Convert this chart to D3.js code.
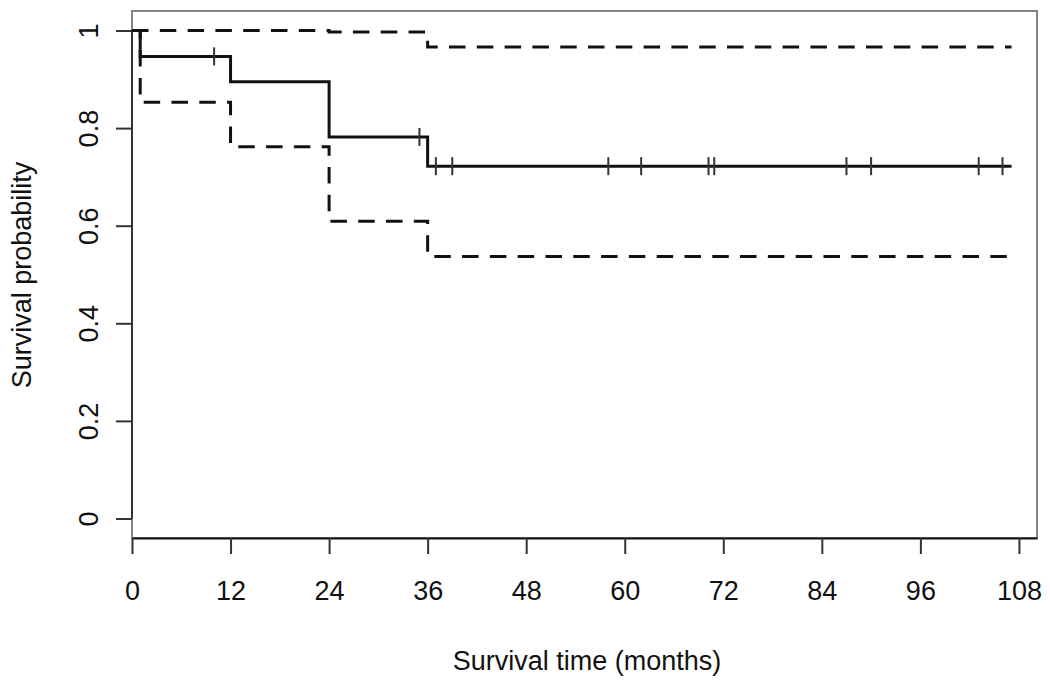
<!DOCTYPE html>
<html>
<head>
<meta charset="utf-8">
<script src="https://cdn.jsdelivr.net/npm/d3@7"></script>
<style>
  body { margin: 0; background: #fff; }
  text { font-family: "Liberation Sans", Arial, sans-serif; fill: #111; }
</style>
</head>
<body>
<div id="chart"></div>
<script>
// Kaplan-Meier estimate with 95% confidence band
var stepTimes = [0, 1, 12, 24, 36, 107.1];
var survival = [1, 0.947, 0.895, 0.782, 0.722];
var upperBand = [1, 1, 1, 0.997, 0.966];
var lowerBand = [1, 0.853, 0.762, 0.609, 0.537];
var censorTimes = [10, 35, 37, 39, 58, 62, 70.2, 70.9, 87, 90, 103.1, 106];

var xTicks = [0, 12, 24, 36, 48, 60, 72, 84, 96, 108];
var yTicks = [0, 0.2, 0.4, 0.6, 0.8, 1];
var yTickLabels = ["0", "0.2", "0.4", "0.6", "0.8", "1"];

var width = 1050,
	height = 686,
	box = {left: 132, right: 1037, top: 11, bottom: 538};

var svg = d3.select("#chart")
	.append("svg")
	.attr("width", width)
	.attr("height", height);

var x = d3.scaleLinear().domain([0, 110.2]).range([box.left, box.right]);
var y = d3.scaleLinear().domain([-0.04, 1.04]).range([box.bottom, box.top]);

function stepPoints(values) {
	var pts = [];
	for (var i = 0; i < values.length; i++) {
		pts.push({t: stepTimes[i], s: values[i]});
	}
	pts.push({t: stepTimes[values.length], s: values[values.length - 1]});
	return pts;
}

function survivalAt(t) {
	var s = survival[0];
	for (var i = 0; i < survival.length; i++) {
		if (t >= stepTimes[i]) s = survival[i];
	}
	return s;
}

var line = d3.line()
	.x(function(d) { return x(d.t); })
	.y(function(d) { return y(d.s); })
	.curve(d3.curveStepAfter);

// plot box
svg.append("rect")
	.attr("x", box.left)
	.attr("y", box.top)
	.attr("width", box.right - box.left)
	.attr("height", box.bottom - box.top)
	.attr("fill", "none")
	.attr("stroke", "#7d8585")
	.attr("stroke-width", 2);

// axes
var xAxis = d3.axisBottom(x).tickValues(xTicks).tickSize(16).tickSizeOuter(0).tickPadding(27);
var gx = svg.append("g")
	.attr("transform", "translate(0," + box.bottom + ")")
	.call(xAxis);
gx.select(".domain").attr("stroke", "#111").attr("stroke-width", 2);
gx.selectAll(".tick line").attr("stroke", "#333").attr("stroke-width", 2);
gx.selectAll(".tick text").style("font-size", "27px").attr("fill", "#111");

var yAxis = d3.axisLeft(y).tickValues(yTicks).tickSize(16)
	.tickFormat(function(d, i) { return yTickLabels[i]; });
var gy = svg.append("g")
	.attr("transform", "translate(" + box.left + ",0)")
	.call(yAxis);
gy.select(".domain").remove();
gy.selectAll(".tick line").attr("stroke", "#333").attr("stroke-width", 2);
gy.selectAll(".tick text")
	.attr("x", 0)
	.attr("dy", "0.35em")
	.attr("transform", "translate(-43,0) rotate(-90)")
	.attr("text-anchor", "middle")
	.style("font-size", "27px")
	.attr("fill", "#111");

// y axis line from 0 to 1
svg.append("line")
	.attr("x1", x(0)).attr("x2", x(0))
	.attr("y1", y(0)).attr("y2", y(1))
	.attr("stroke", "#333")
	.attr("stroke-width", 2);

// confidence band
[upperBand, lowerBand].forEach(function(band) {
	svg.append("path")
		.attr("d", line(stepPoints(band)))
		.attr("fill", "none")
		.attr("stroke", "#111")
		.attr("stroke-width", 3)
		.attr("stroke-dasharray", "16.5,11.3");
});

// survival curve
svg.append("path")
	.attr("d", line(stepPoints(survival)))
	.attr("fill", "none")
	.attr("stroke", "#111")
	.attr("stroke-width", 3);

// censored observations
svg.selectAll(".censor")
	.data(censorTimes)
	.enter()
	.append("line")
	.attr("class", "censor")
	.attr("x1", function(d) { return x(d); })
	.attr("x2", function(d) { return x(d); })
	.attr("y1", function(d) { return y(survivalAt(d)) - 9; })
	.attr("y2", function(d) { return y(survivalAt(d)) + 9; })
	.attr("stroke", "#333")
	.attr("stroke-width", 2);

// axis titles
svg.append("text")
	.attr("x", 587)
	.attr("y", 661)
	.attr("dy", "0.35em")
	.attr("text-anchor", "middle")
	.style("font-size", "27px")
	.text("Survival time (months)");

svg.append("text")
	.attr("transform", "translate(22,275) rotate(-90)")
	.attr("dy", "0.35em")
	.attr("text-anchor", "middle")
	.style("font-size", "27px")
	.text("Survival probability");
</script>
</body>
</html>
